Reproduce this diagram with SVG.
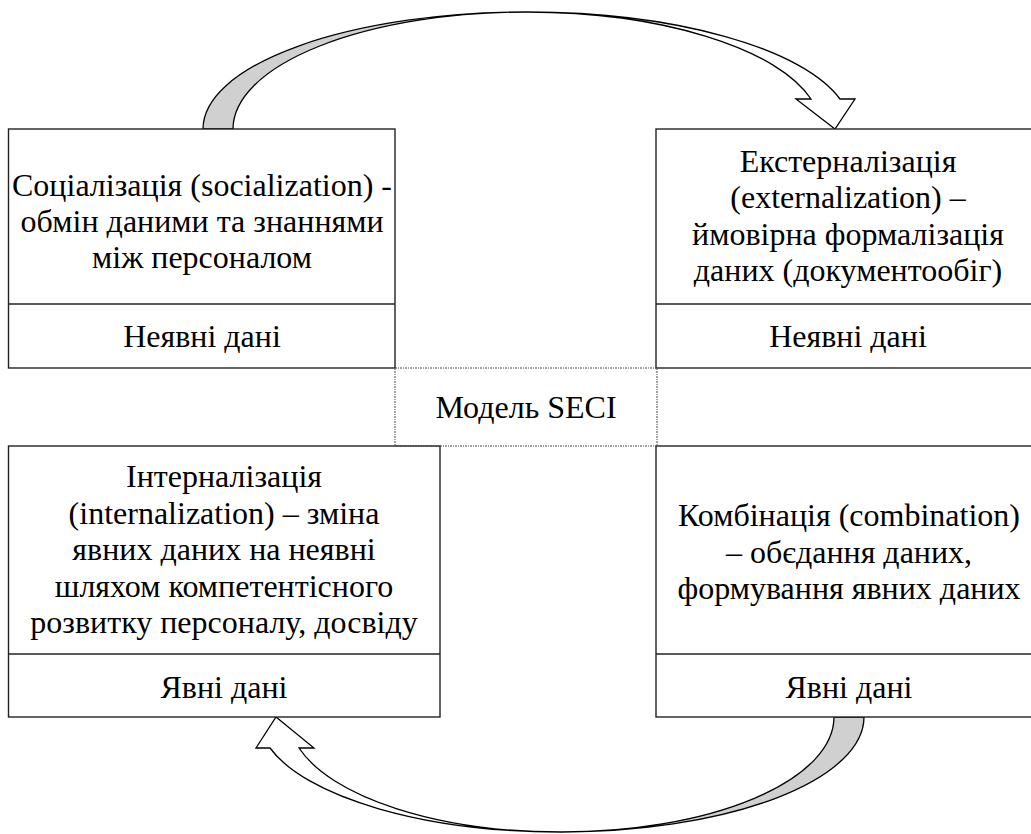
<svg xmlns="http://www.w3.org/2000/svg" width="1031" height="834" viewBox="0 0 1031 834">
<style>
.box{fill:#fff;stroke:#222;stroke-width:1.4}
.div{stroke:#222;stroke-width:1.4}
.dot{fill:none;stroke:#444;stroke-width:1;stroke-dasharray:2 1 1 1}
.t{font-family:"Liberation Serif","Times New Roman",serif;font-size:32px;fill:#000;text-anchor:middle}
.arr{stroke:#000;stroke-width:1.3;stroke-linejoin:miter}
.g{fill:#d0d0d0}
.w{fill:#fff}
</style>
<rect width="1031" height="834" fill="#fff"/>
<g id="connectors">
<g id="arrow-top">
<path class="arr g" d="M203 129 A324 117 0 0 1 527 12 A294 117 0 0 0 233 129 Z"/>
<path class="arr w" d="M527 12 A324 117 0 0 1 840 99 L855 99 L835 129 L796 99 L811 99 A294 117 0 0 0 527 12 Z"/>
</g>
<g id="arrow-bottom">
<path class="arr g" d="M864 717 A302 115 0 0 1 562 832 A272 115 0 0 0 834 717 Z"/>
<path class="arr w" d="M562 832 A302 115 0 0 1 270 748 L256 748 L276 717 L314 748 L299 748 A272 115 0 0 0 562 832 Z"/>
</g>
</g>
<g id="node-socialization">
<rect class="box" x="8.5" y="129" width="386.5" height="239"/>
<line class="div" x1="8.5" y1="304" x2="395" y2="304"/>
<text class="t" x="202" y="196">Соціалізація (socialization) -</text>
<text class="t" x="202" y="232">обмін даними та знаннями</text>
<text class="t" x="202" y="268">між персоналом</text>
<text class="t" x="202" y="347">Неявні дані</text>
</g>
<g id="node-externalization">
<rect class="box" x="656" y="129" width="384" height="239"/>
<line class="div" x1="656" y1="304" x2="1040" y2="304"/>
<text class="t" x="848" y="172">Екстерналізація</text>
<text class="t" x="848" y="208">(externalization) –</text>
<text class="t" x="848" y="244.5">ймовірна формалізація</text>
<text class="t" x="848" y="281">даних (документообіг)</text>
<text class="t" x="848" y="347">Неявні дані</text>
</g>
<g id="node-internalization">
<rect class="box" x="8.5" y="446" width="431.5" height="271"/>
<line class="div" x1="8.5" y1="654" x2="440" y2="654"/>
<text class="t" x="224" y="487">Інтерналізація</text>
<text class="t" x="224" y="523.5">(internalization) – зміна</text>
<text class="t" x="224" y="560">явних даних на неявні</text>
<text class="t" x="224" y="596.5">шляхом компетентісного</text>
<text class="t" x="224" y="633">розвитку персоналу, досвіду</text>
<text class="t" x="224" y="698">Явні дані</text>
</g>
<g id="node-combination">
<rect class="box" x="656" y="446" width="386" height="271"/>
<line class="div" x1="656" y1="654" x2="1042" y2="654"/>
<text class="t" x="849" y="526">Комбінація (combination)</text>
<text class="t" x="849" y="562.5">– обєдання даних,</text>
<text class="t" x="849" y="599">формування явних даних</text>
<text class="t" x="849" y="698">Явні дані</text>
</g>
<g id="node-seci">
<rect class="dot" x="395" y="368" width="262" height="78"/>
<text class="t" x="526" y="418">Модель SECI</text>
</g>
</svg>
